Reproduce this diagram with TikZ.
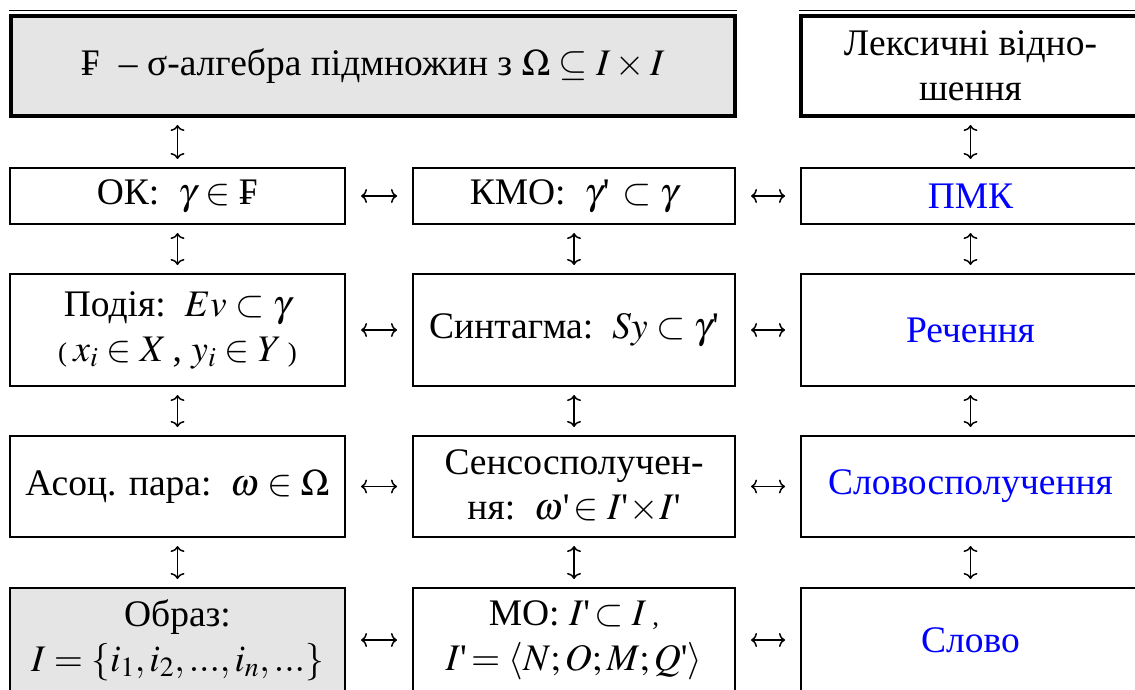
\documentclass[tikz,border=0pt]{standalone}
\usepackage{mathptmx}
\usepackage[no-math]{fontspec}
\setmainfont{Liberation Serif}
\usetikzlibrary{arrows.meta}
\newcommand{\apos}{\mbox{\textquotesingle}}
\newcommand{\sparen}[1]{{\fontsize{27}{27}\selectfont #1}}

\begin{document}
\begin{tikzpicture}[x=1pt,y=-1pt,
    every node/.style={font=\fontsize{37.5}{45}\selectfont},
    box/.style={draw,line width=2pt,inner sep=0pt,outer sep=0pt,align=center},
    frame/.style={box,line width=4pt},
    word/.style={text=blue},
    vlink/.style={{To[length=6pt,width=14pt]}-{To[length=6pt,width=14pt]},line width=1.5pt,shorten >=9pt,shorten <=9pt},
    hlink/.style={{To[length=6pt,width=14pt]}-{To[length=6pt,width=14pt]},line width=1.5pt,shorten >=16pt,shorten <=16pt}]
  \useasboundingbox (0,0) rectangle (1135,690);

  % top row
  \node[frame,fill=gray!20,minimum width=724,minimum height=100] (sigma) at (373,66) {₣\ \ -- σ-алгебра підмножин з\ $\Omega\subseteq I\times I$};
  \draw[line width=1pt] ([shift={(-2pt,5pt)}]sigma.north west) -- ([shift={(2pt,5pt)}]sigma.north east);
  \node[frame,minimum width=339,minimum height=100] (lex) at (970.5,66) {Лексичні відно-\\шення};
  \draw[line width=1pt] ([shift={(-2pt,5pt)}]lex.north west) -- ([shift={(2pt,5pt)}]lex.north east);

  % second row
  \node[box,minimum width=335,minimum height=56] (ok) at (177.5,196) {ОК:\ \ $\gamma\in$ ₣};
  \node[box,minimum width=322,minimum height=56] (kmo) at (574,196) {КМО:\ \ $\gamma\apos\,\subset\gamma$};
  \node[box,word,minimum width=339,minimum height=56] (pmk) at (970.5,196) {ПМК};

  % third row
  \node[box,minimum width=335,minimum height=112] (podia) at (177.5,330) {Подія:\ \ $Ev\subset\gamma$\\\sparen{(}\,$x_i\in X$\,, $y_i\in Y$\,\sparen{)}};
  \node[box,minimum width=322,minimum height=112] (synt) at (574,330) {Синтагма:\ \ $Sy\subset\gamma\apos$};
  \node[box,word,minimum width=339,minimum height=112] (rech) at (970.5,330) {Речення};

  % fourth row
  \node[box,minimum width=335,minimum height=101] (asoc) at (177.5,486.5) {Асоц. пара:\ \ $\omega\in\Omega$};
  \node[box,minimum width=322,minimum height=101] (senso) at (574,486.5) {Сенсосполучен-\\ня:\ \ $\omega\apos\!\in I\apos\!\times\! I\apos$};
  \node[box,word,minimum width=339,minimum height=101] (slovosp) at (970.5,486.5) {Словосполучення};

  % fifth row
  \node[box,fill=gray!20,minimum width=335,minimum height=104] (obraz) at (177.5,640) {Образ:\\$I=\{i_1,i_2,...,i_n,...\}$};
  \node[box,minimum width=322,minimum height=104] (mo) at (574,640) {МО:\ $I\apos\!\subset I$\,\sparen{,}\\$I\apos\!=\langle N;O;M;Q\apos\rangle$};
  \node[box,word,minimum width=339,minimum height=104] (slovo) at (970.5,640) {Слово};

  % vertical links
  \draw[vlink] (ok.north |- sigma.south) -- (ok.north);
  \draw[vlink] (ok) -- (podia);
  \draw[vlink] (podia) -- (asoc);
  \draw[vlink] (asoc) -- (obraz);
  \draw[vlink] (kmo) -- (synt);
  \draw[vlink] (synt) -- (senso);
  \draw[vlink] (senso) -- (mo);
  \draw[vlink] (lex) -- (pmk);
  \draw[vlink] (pmk) -- (rech);
  \draw[vlink] (rech) -- (slovosp);
  \draw[vlink] (slovosp) -- (slovo);

  % horizontal links
  \draw[hlink] (ok) -- (kmo);
  \draw[hlink] (kmo) -- (pmk);
  \draw[hlink] (podia) -- (synt);
  \draw[hlink] (synt) -- (rech);
  \draw[hlink] (asoc) -- (senso);
  \draw[hlink] (senso) -- (slovosp);
  \draw[hlink] (obraz) -- (mo);
  \draw[hlink] (mo) -- (slovo);
\end{tikzpicture}
\end{document}
